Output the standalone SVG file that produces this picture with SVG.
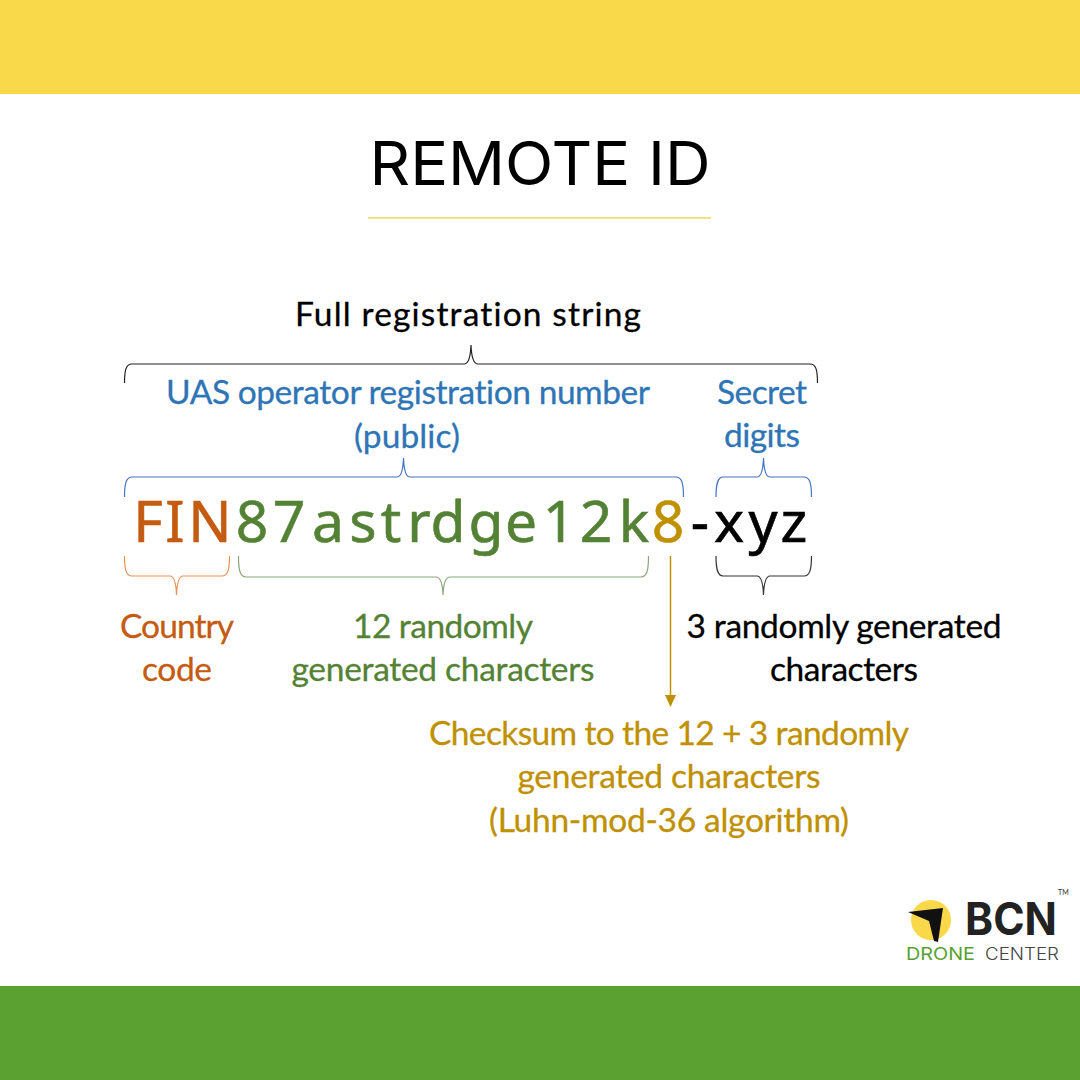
<svg xmlns="http://www.w3.org/2000/svg" width="1080" height="1080" viewBox="0 0 1080 1080">
<style>
text{font-family:"Lato","Liberation Sans",sans-serif;font-variant-ligatures:none}
.l{font-size:33.5px;text-anchor:middle;stroke-width:.3px}
.code{font-family:"Noto Sans","Liberation Sans",sans-serif;font-size:57px;text-anchor:middle}
.br{fill:none;stroke-width:1.2}
.blue{fill:#2E75B6;stroke:#2E75B6}.org{fill:#C55A11;stroke:#C55A11}.grn{fill:#548235;stroke:#548235}.gold{fill:#BF9000;stroke:#BF9000}.blk{fill:#000;stroke:#000}
.code{stroke-width:.6px}
.logo{font-family:"Inter","Liberation Sans",sans-serif}
</style>
<rect id="top-band" width="1080" height="94" fill="#F9D94A"/>
<rect id="bottom-band" y="986" width="1080" height="94" fill="#5AA131"/>
<g id="title">
<text x="540" y="185" font-size="60" text-anchor="middle" textLength="341" lengthAdjust="spacingAndGlyphs" style="font-family:'Inter','Liberation Sans',sans-serif">REMOTE ID</text>
<rect x="368" y="217" width="343" height="1.8" fill="#F0DE7A"/>
</g>
<g id="connectors">
<path class="br" stroke="#222" d="M124.500 383C124.500 370 126 364 132 364H464C468 364 470.500 358 471 345C471.500 358 474 364 478 364H810C816 364 817.500 370 817.500 383"/>
<path class="br" stroke="#4472C4" d="M124.500 497C124.500 484 126 477 132 477H397C401 477 403 471 403.500 458C404 471 406 477 410 477H676C682 477 683.500 484 683.500 497"/>
<path class="br" stroke="#4472C4" d="M716 497C716 484 717.500 477 723 477H757C761 477 763 471 763.500 458C764 471 766 477 770 477H804C810 477 811.500 484 811.500 497"/>
<path class="br" stroke="#E8925A" d="M124.500 556C124.500 569 126 576 132 576H170C174 576 176 582 176.500 595C177 582 179 576 183 576H222C228 576 229.500 569 229.500 556"/>
<path class="br" stroke="#8AA77A" d="M238.500 556C238.500 570 240 577 246 577H436C440 577 442.500 583 443 595C443.500 583 446 577 450 577H641C647 577 648.500 570 648.500 556"/>
<path class="br" stroke="#333" d="M716 556C716 569 717.500 576 723 576H757C761 576 763 582 763.500 595C764 582 766 576 770 576H804C810 576 811.500 569 811.500 556"/>
<line x1="670.500" y1="556" x2="670.500" y2="696" stroke="#BF9000" stroke-width="1.500"/>
<polygon points="665,695 676,695 670.500,707" fill="#BF9000"/>
</g>
<g id="full-string"><text class="l blk" x="468" y="326" textLength="346">Full registration string</text></g>
<g id="operator-number" class="blue">
<text class="l" x="408" y="404" textLength="484">UAS operator registration number</text>
<text class="l" x="407" y="448" textLength="106">(public)</text>
</g>
<g id="secret-digits" class="blue">
<text class="l" x="762" y="404" textLength="90">Secret</text>
<text class="l" x="762" y="447" textLength="76">digits</text>
</g>
<g id="registration-code">
<text class="code org" y="542"><tspan x="148">F</tspan><tspan x="175">I</tspan><tspan x="210">N</tspan></text>
<text class="code grn" y="542"><tspan x="252">8</tspan><tspan x="289">7</tspan><tspan x="328">a</tspan><tspan x="363">s</tspan><tspan x="391">t</tspan><tspan x="419">r</tspan><tspan x="448">d</tspan><tspan x="486">g</tspan><tspan x="521">e</tspan><tspan x="559">1</tspan><tspan x="596">2</tspan><tspan x="634">k</tspan></text>
<text class="code gold" x="668" y="542">8</text>
<text class="code blk" y="542"><tspan x="700">-</tspan><tspan x="729">x</tspan><tspan x="763">y</tspan><tspan x="794">z</tspan></text>
</g>
<g id="country-code" class="org">
<text class="l" x="177" y="638" textLength="114">Country</text>
<text class="l" x="177" y="681" textLength="70">code</text>
</g>
<g id="random-12" class="grn">
<text class="l" x="443" y="638" textLength="180">12 randomly</text>
<text class="l" x="443" y="681" textLength="303">generated characters</text>
</g>
<g id="random-3" class="blk">
<text class="l" x="844" y="638" textLength="315">3 randomly generated</text>
<text class="l" x="844" y="681" textLength="148">characters</text>
</g>
<g id="checksum" class="gold">
<text class="l" x="669" y="745" textLength="480">Checksum to the 12 + 3 randomly</text>
<text class="l" x="669" y="788" textLength="303">generated characters</text>
<text class="l" x="669" y="832" textLength="360">(Luhn-mod-36 algorithm)</text>
</g>
<g id="logo">
<circle cx="931" cy="920" r="20" fill="#F9D94A"/>
<polygon points="908,912 943,908 938,942 934,941 929,921" fill="#111"/>
<text class="logo" x="965" y="935" font-size="45" font-weight="700" fill="#222" textLength="92" lengthAdjust="spacingAndGlyphs">BCN</text>
<text class="logo" x="906" y="960" font-size="17" fill="#5AA131" textLength="69" lengthAdjust="spacingAndGlyphs">DRONE</text>
<text class="logo" x="985" y="960" font-size="17" font-weight="300" fill="#444" textLength="74" lengthAdjust="spacingAndGlyphs">CENTER</text>
<text x="1058" y="895" font-size="7" fill="#333">TM</text>
</g>
</svg>
